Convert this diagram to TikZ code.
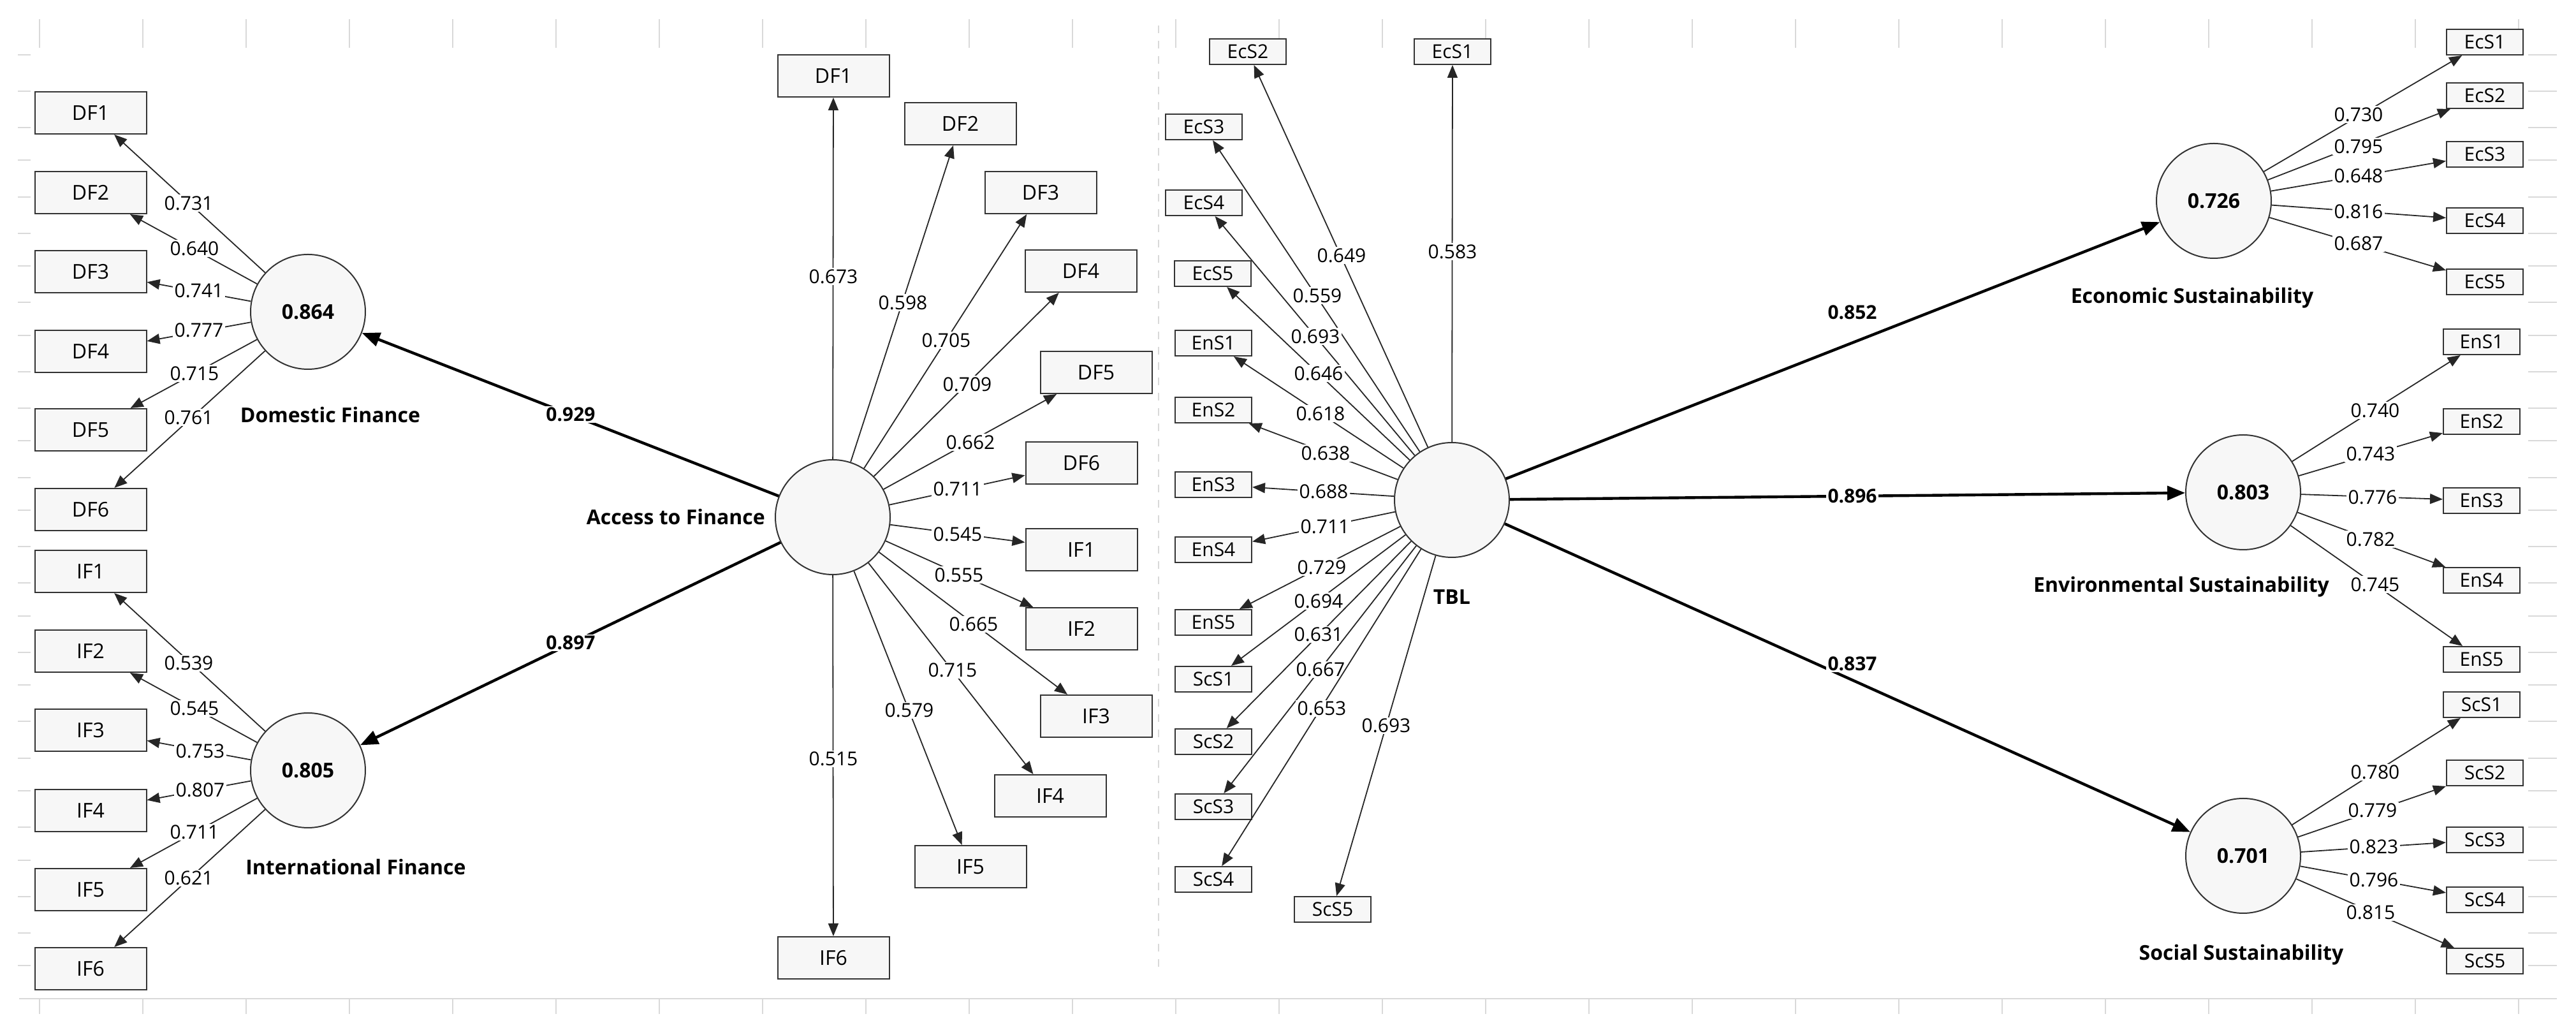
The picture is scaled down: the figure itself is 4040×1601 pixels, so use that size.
\documentclass[tikz,border=0pt]{standalone}
\usepackage{fontspec}
\setmainfont{Open Sans}
\usetikzlibrary{arrows.meta}
\begin{document}
\begin{tikzpicture}[x=0.25pt,y=-0.25pt,
  bigbox/.style={draw=black!80,fill=black!3,line width=0.5pt,minimum width=43.75pt,minimum height=16.5pt,inner sep=0pt,font=\fontsize{8}{8}\selectfont},
  smallbox/.style={draw=black!80,fill=black!3,line width=0.5pt,minimum width=30pt,minimum height=10pt,inner sep=0pt,font=\fontsize{7.5}{7.5}\selectfont},
  lv/.style={circle,draw=black!80,fill=black!3,line width=0.5pt,minimum size=45pt,inner sep=0pt,font=\bfseries\fontsize{8}{8}\selectfont},
  ld/.style={-{Triangle[length=5pt,width=4pt]},line width=0.45pt,black!85},
  st/.style={-{Triangle[length=7pt,width=5.5pt]},line width=1.1pt},
  lab/.style={fill=white,inner sep=0.6pt,font=\fontsize{7.5}{7.5}\selectfont},
  slab/.style={fill=white,inner sep=0.6pt,font=\bfseries\fontsize{7.5}{7.5}\selectfont},
  lvname/.style={font=\bfseries\fontsize{8}{8}\selectfont},
  grid/.style={black!15,line width=0.5pt}]
\useasboundingbox (0,0) rectangle (4040,1601);
% background grid
\draw[grid] (30,1566) -- (4010,1566);
\foreach \i in {0,...,24} {
  \draw[grid] (62+162*\i,30) -- (62+162*\i,75);
  \draw[grid] (62+162*\i,1566) -- (62+162*\i,1590);
}
\foreach \y in {86,143,200,251,309,366,417,474,526,583,640,691,749,800,857,914,966,1023,1074,1131,1189,1240,1297,1349,1406,1463,1514}{
  \draw[grid] (28,\y) -- (48,\y);
  \draw[grid] (3965,\y) -- (4010,\y);
}
\draw[grid,dashed] (1817,40) -- (1817,1520);
% latent variables
\node[lv] (DFc) at (483,489) {0.864};
\node[lv] (IFc) at (483,1208) {0.805};
\node[lv] (AF) at (1306,811) {};
\node[lv] (TBL) at (2277,784) {};
\node[lv] (EcS) at (3472,315) {0.726};
\node[lv] (EnS) at (3518,772) {0.803};
\node[lv] (ScS) at (3518,1342) {0.701};
\node[lvname] (nDF) at (518,651) {Domestic Finance};
\node[lvname] (nIF) at (558,1360) {International Finance};
\node[lvname,anchor=east] (nAF) at (1214,811) {Access to Finance};
\node[lvname] (nTBL) at (2277,936) {TBL};
\node[lvname] (nEc) at (3438,467) {Economic Sustainability};
\node[lvname] (nEn) at (3421,920) {Environmental Sustainability};
\node[lvname] (nSc) at (3515,1497) {Social Sustainability};
% left DF / IF indicators
\foreach \n/\y/\lx/\ly/\v in {1/177/296/319/0.731,2/302/305/390/0.640,3/426/312/456/0.741,4/551/312/518/0.777,5/674/305/586/0.715,6/799/296/655/0.761}{
  \node[bigbox] (lDF\n) at (142,\y) {DF\n};
  \draw[ld] (DFc) -- (lDF\n);
  \node[lab] (llDF\n) at (\lx,\ly) {\v};
}
\foreach \n/\y/\lx/\ly/\v in {1/896/296/1040/0.539,2/1021/305/1111/0.545,3/1145/314/1178/0.753,4/1271/314/1239/0.807,5/1395/305/1305/0.711,6/1519/296/1377/0.621}{
  \node[bigbox] (lIF\n) at (142,\y) {IF\n};
  \draw[ld] (IFc) -- (lIF\n);
  \node[lab] (llIF\n) at (\lx,\ly) {\v};
}
% Access to Finance indicators
\foreach \t/\x/\y/\lx/\ly/\v in {DF1/1307/119/1307/434/0.673,DF2/1506/194/1416/475/0.598,DF3/1632/302/1484/534/0.705,DF4/1695/425/1517/603/0.709,DF5/1719/584/1522/694/0.662,DF6/1696/726/1502/767/0.711,IF1/1696/862/1502/838/0.545,IF2/1696/986/1504/902/0.555,IF3/1719/1123/1527/979/0.665,IF4/1647/1248/1494/1051/0.715,IF5/1522/1359/1426/1114/0.579,IF6/1307/1502/1307/1190/0.515}{
  \node[bigbox] (a\t) at (\x,\y) {\t};
  \draw[ld] (AF) -- (a\t);
  \node[lab] (la\t) at (\lx,\ly) {\v};
}
% TBL indicators
\foreach \t/\x/\y/\lx/\ly/\v in {EcS1/2278/81/2278/395/0.583,EcS2/1957/81/2104/401/0.649,EcS3/1888/199/2066/464/0.559,EcS4/1888/318/2063/528/0.693,EcS5/1902/429/2068/586/0.646,EnS1/1903/538/2071/649/0.618,EnS2/1903/643/2079/711/0.638,EnS3/1903/760/2076/771/0.688,EnS4/1903/862/2078/826/0.711,EnS5/1903/976/2073/890/0.729,ScS1/1903/1065/2068/943/0.694,ScS2/1903/1163/2068/995/0.631,ScS3/1903/1265/2071/1050/0.667,ScS4/1903/1379/2073/1111/0.653,ScS5/2090/1426/2174/1138/0.693}{
  \node[smallbox] (t\t) at (\x,\y) {\t};
  \draw[ld] (TBL) -- (t\t);
  \node[lab] (lt\t) at (\lx,\ly) {\v};
}
% right indicators
\foreach \n/\y/\ly/\v in {1/66/180/0.730,2/150/230/0.795,3/242/276/0.648,4/346/332/0.816,5/442/382/0.687}{
  \node[smallbox] (rEc\n) at (3897,\y) {EcS\n};
  \draw[ld] (EcS) -- (rEc\n);
  \node[lab] (lrEc\n) at (3699,\ly) {\v};
}
\foreach \n/\y/\lx/\ly/\v in {1/536/3725/644/0.740,2/661/3718/712/0.743,3/785/3721/780/0.776,4/910/3718/846/0.782,5/1034/3725/917/0.745}{
  \node[smallbox] (rEn\n) at (3892,\y) {EnS\n};
  \draw[ld] (EnS) -- (rEn\n);
  \node[lab] (lrEn\n) at (\lx,\ly) {\v};
}
\foreach \n/\x/\y/\lx/\ly/\v in {1/3892/1105/3725/1211/0.780,2/3897/1212/3721/1271/0.779,3/3897/1317/3723/1328/0.823,4/3897/1411/3723/1380/0.796,5/3897/1507/3718/1431/0.815}{
  \node[smallbox] (rSc\n) at (\x,\y) {ScS\n};
  \draw[ld] (ScS) -- (rSc\n);
  \node[lab] (lrSc\n) at (\lx,\ly) {\v};
}
% structural paths
\draw[st] (AF) -- (DFc);
\draw[st] (AF) -- (IFc);
\draw[st] (TBL) -- (EcS);
\draw[st] (TBL) -- (EnS);
\draw[st] (TBL) -- (ScS);
\node[slab] (p1) at (895,650) {0.929};
\node[slab] (p2) at (895,1008) {0.897};
\node[slab] (p3) at (2905,490) {0.852};
\node[slab] (p4) at (2905,778) {0.896};
\node[slab] (p5) at (2905,1041) {0.837};
\end{tikzpicture}
\end{document}
